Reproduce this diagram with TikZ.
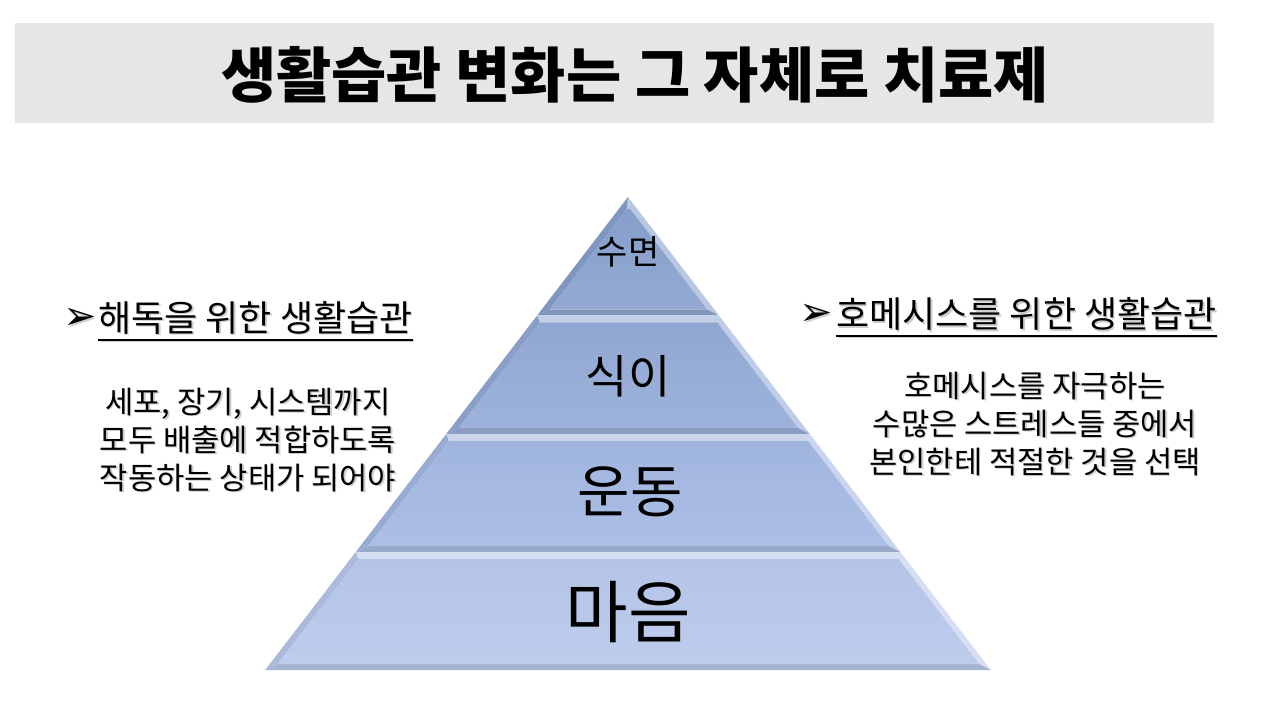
\documentclass[tikz,border=0pt]{standalone}
\usepackage{fontspec}
\usetikzlibrary{calc}
\newfontfamily\kr{Noto Sans CJK KR}
\newfontfamily\dejavu{DejaVu Sans}
\definecolor{titlegray}{RGB}{230,230,230}
\definecolor{tAa}{RGB}{133,158,202}
\definecolor{tAb}{RGB}{148,170,211}
\definecolor{tBa}{RGB}{144,167,210}
\definecolor{tBb}{RGB}{157,179,219}
\definecolor{tCa}{RGB}{160,181,222}
\definecolor{tCb}{RGB}{172,191,229}
\definecolor{tDa}{RGB}{180,196,231}
\definecolor{tDb}{RGB}{190,204,236}
\definecolor{shadowgray}{RGB}{205,205,205}
\newcommand\pyrtier[5]{%
 \pgfmathsetmacro\pyrxa{628-0.767*(#1-197)}%
 \pgfmathsetmacro\pyrxb{628+0.767*(#1-197)}%
 \pgfmathsetmacro\pyrxc{628-0.767*(#2-197)}%
 \pgfmathsetmacro\pyrxd{628+0.767*(#2-197)}%
 \pgfmathsetmacro\pyriy{#1+#5}%
 \pgfmathsetmacro\pyrjy{#2-6}%
 \pgfmathsetmacro\pyria{628-0.767*(\pyriy-197)+8}%
 \pgfmathsetmacro\pyrib{628+0.767*(\pyriy-197)-7}%
 \pgfmathsetmacro\pyrja{628-0.767*(\pyrjy-197)+8}%
 \pgfmathsetmacro\pyrjb{628+0.767*(\pyrjy-197)-7}%
 \fill[#3!55!white] (\pyrxa,#1) -- (\pyrxb,#1) -- (\pyrib,\pyriy) -- (\pyria,\pyriy) -- cycle;
 \fill[#4!65!white] (\pyrxb,#1) -- (\pyrxd,#2) -- (\pyrjb,\pyrjy) -- (\pyrib,\pyriy) -- cycle;
 \fill[#4!88!black] (\pyrxd,#2) -- (\pyrxc,#2) -- (\pyrja,\pyrjy) -- (\pyrjb,\pyrjy) -- cycle;
 \fill[#3!95!black] (\pyrxc,#2) -- (\pyrxa,#1) -- (\pyria,\pyriy) -- (\pyrja,\pyrjy) -- cycle;
 \shade[top color=#3,bottom color=#4] (\pyria,\pyriy) -- (\pyrib,\pyriy) -- (\pyrjb,\pyrjy) -- (\pyrja,\pyrjy) -- cycle;
}
\begin{document}
\begin{tikzpicture}[x=1pt,y=-1pt,
  titletext/.style={font=\kr\bfseries\fontsize{60}{62}\selectfont, inner sep=0},
  head/.style={font=\kr\fontsize{36}{38}\selectfont, inner sep=0},
  bullet/.style={font=\dejavu\fontsize{40}{42}\selectfont, inner sep=0},
  body/.style={font=\kr\fontsize{30.7}{38}\selectfont, align=center, inner sep=0},
  shade text/.style={text=shadowgray},
  tierlabel/.style={font=\kr, inner sep=0},
  uline/.style={line width=2pt}]
\useasboundingbox (0,0) rectangle (1280,711);
\fill[white] (0,0) rectangle (1280,711);
% title band
\fill[titlegray] (15,23) rectangle (1214,123);
\node[titletext] (title) at (635,75) {생활습관 변화는 그 자체로 치료제};
% pyramid
\pyrtier{197}{315.5}{tAa}{tAb}{12}
\pyrtier{315.5}{434}{tBa}{tBb}{7}
\pyrtier{434}{552}{tCa}{tCb}{7}
\pyrtier{552}{670}{tDa}{tDb}{7}
\node[tierlabel, font=\kr\fontsize{34}{36}\selectfont] (sleep) at (628,252) {수면};
\node[tierlabel, font=\kr\fontsize{46}{48}\selectfont] (diet) at (628,376) {식이};
\node[tierlabel, font=\kr\fontsize{57}{60}\selectfont] (exercise) at (630,492) {운동};
\node[tierlabel, font=\kr\fontsize{68}{70}\selectfont] (mind) at (628,612) {마음};
% left heading
\node[bullet, shade text] (lbs) at (81.5,320.5) {➢};
\node[bullet] (lb) at (80,319) {➢};
\node[head, shade text] (lhs) at (257,319.5) {해독을 위한 생활습관};
\node[head] (lh) at (255.5,318) {해독을 위한 생활습관};
\draw[uline, shadowgray] ($(lhs.south west)+(0,5)$) -- ($(lhs.south east)+(0,5)$);
\draw[uline] ($(lh.south west)+(0,5)$) -- ($(lh.south east)+(0,5)$);
\node[body, shade text] (lbodys) at (249.5,441.5) {세포, 장기, 시스템까지\\모두 배출에 적합하도록\\작동하는 상태가 되어야};
\node[body] (lbody) at (248,440) {세포, 장기, 시스템까지\\모두 배출에 적합하도록\\작동하는 상태가 되어야};
% right heading
\node[bullet, shade text] (rbs) at (817.5,316.5) {➢};
\node[bullet] (rb) at (816,315) {➢};
\node[head, shade text] (rhs) at (1028,315.5) {호메시스를 위한 생활습관};
\node[head] (rh) at (1026.5,314) {호메시스를 위한 생활습관};
\draw[uline, shadowgray] ($(rhs.south west)+(0,5)$) -- ($(rhs.south east)+(0,5)$);
\draw[uline] ($(rh.south west)+(0,5)$) -- ($(rh.south east)+(0,5)$);
\node[body, shade text] (rbodys) at (1036.5,425.5) {호메시스를 자극하는\\수많은 스트레스들 중에서\\본인한테 적절한 것을 선택};
\node[body] (rbody) at (1035,424) {호메시스를 자극하는\\수많은 스트레스들 중에서\\본인한테 적절한 것을 선택};
\end{tikzpicture}
\end{document}
